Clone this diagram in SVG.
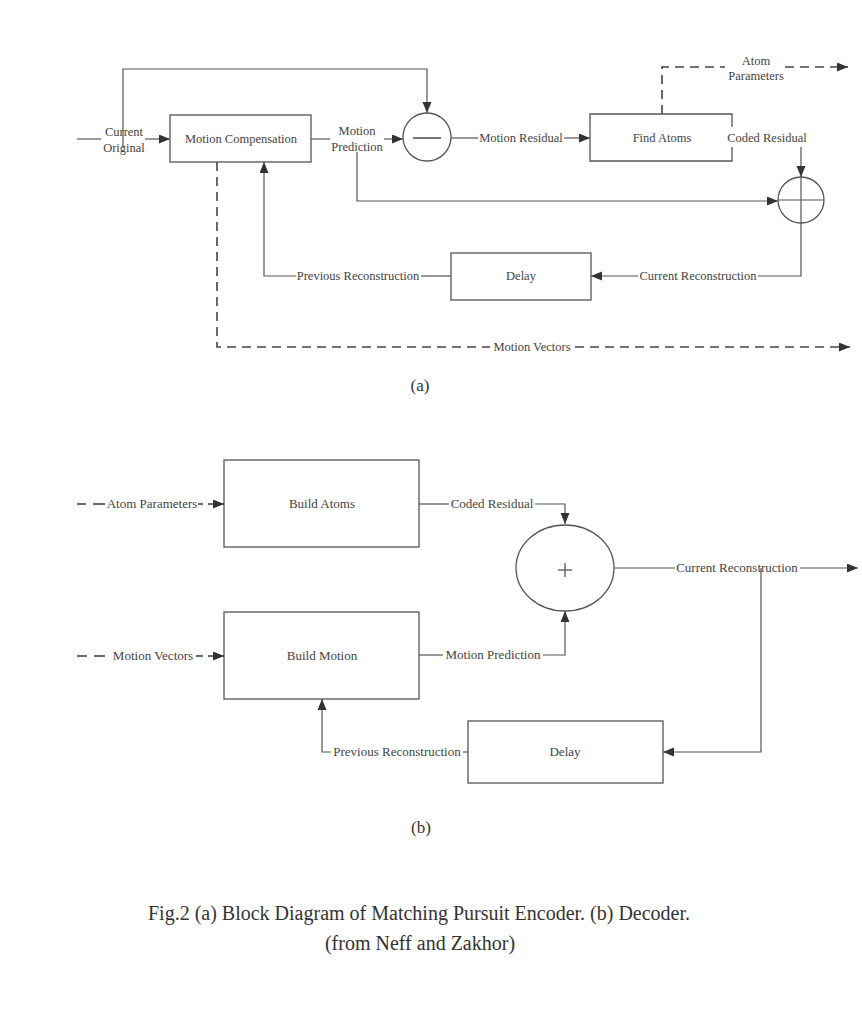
<svg xmlns="http://www.w3.org/2000/svg" width="862" height="1033" viewBox="0 0 862 1033">
<defs>
<marker id="ah" markerUnits="userSpaceOnUse" markerWidth="12" markerHeight="10" refX="11" refY="4.5" orient="auto">
<path d="M0,0 L11,4.5 L0,9 z" fill="#333"/>
</marker>
<style>
.box{fill:#fff;stroke:#555;stroke-width:1.3}
.ln{fill:none;stroke:#555;stroke-width:1.2}
.ds{fill:none;stroke:#444;stroke-width:1.6;stroke-dasharray:9,6}
.in{fill:none;stroke:#444;stroke-width:1.6}
.t{font-family:"Liberation Serif","Times New Roman",serif;font-size:12.5px;fill:#444;text-anchor:middle}
.tb{font-family:"Liberation Serif","Times New Roman",serif;font-size:13px;fill:#444;text-anchor:middle}
.cap{font-family:"Liberation Serif","Times New Roman",serif;font-size:20px;fill:#333;text-anchor:middle}
</style>
</defs>
<rect width="862" height="1033" fill="#fff"/>

<g id="connectors">
<!-- (a) encoder -->
<line class="ln" x1="77" y1="139" x2="101" y2="139"/>
<line class="ln" x1="145" y1="139" x2="170" y2="139" marker-end="url(#ah)"/>
<polyline class="ln" points="123,148 123,69 427,69 427,113" marker-end="url(#ah)"/>
<line class="ln" x1="311" y1="139" x2="330" y2="139"/>
<line class="ln" x1="384" y1="139" x2="403" y2="139" marker-end="url(#ah)"/>
<line class="ln" x1="451" y1="138" x2="478" y2="138"/>
<line class="ln" x1="564" y1="138" x2="590" y2="138" marker-end="url(#ah)"/>
<polyline class="ln" points="357,152 357,201 778,201" marker-end="url(#ah)"/>
<line class="ln" x1="801" y1="147" x2="801" y2="177" marker-end="url(#ah)"/>
<polyline class="ln" points="801,223 801,276 758,276"/>
<line class="ln" x1="638" y1="276" x2="591" y2="276" marker-end="url(#ah)"/>
<line class="ln" x1="451" y1="276" x2="421" y2="276"/>
<polyline class="ln" points="296,276 264,276 264,162" marker-end="url(#ah)"/>
<polyline class="ds" points="217,162 217,347 490,347"/>
<line class="ds" x1="575" y1="347" x2="850" y2="347" marker-end="url(#ah)"/>
<polyline class="ds" points="662,114 662,67 725,67"/>
<line class="ds" x1="785" y1="67" x2="848" y2="67" marker-end="url(#ah)"/>
<!-- (b) decoder -->
<line class="in" x1="77" y1="504" x2="86" y2="504"/>
<line class="in" x1="93" y1="504" x2="105" y2="504"/>
<line class="in" x1="198" y1="504" x2="203" y2="504"/>
<line class="in" x1="208" y1="504" x2="224" y2="504" marker-end="url(#ah)"/>
<line class="in" x1="77" y1="656" x2="87" y2="656"/>
<line class="in" x1="94" y1="656" x2="105" y2="656"/>
<line class="in" x1="196" y1="656" x2="203" y2="656"/>
<line class="in" x1="208" y1="656" x2="224" y2="656" marker-end="url(#ah)"/>
<line class="ln" x1="419" y1="504" x2="449" y2="504"/>
<polyline class="ln" points="535,504 565,504 565,524" marker-end="url(#ah)"/>
<line class="ln" x1="419" y1="655" x2="443" y2="655"/>
<polyline class="ln" points="543,655 565,655 565,611" marker-end="url(#ah)"/>
<line class="ln" x1="614" y1="568" x2="675" y2="568"/>
<line class="ln" x1="800" y1="568" x2="858" y2="568" marker-end="url(#ah)"/>
<polyline class="ln" points="761,568 761,752 663,752" marker-end="url(#ah)"/>
<line class="ln" x1="468" y1="752" x2="463" y2="752"/>
<polyline class="ln" points="331,752 322,752 322,699" marker-end="url(#ah)"/>
</g>

<g id="motion-compensation">
<rect class="box" x="170" y="115" width="141" height="47"/>
<text class="t" x="241" y="143">Motion Compensation</text>
</g>
<g id="subtractor">
<circle class="box" cx="427" cy="137" r="24"/>
<line class="ln" x1="413" y1="138" x2="441" y2="138" style="stroke-width:1.6"/>
</g>
<g id="find-atoms">
<path class="box" d="M732,127 L732,114 L590,114 L590,161 L732,161 L732,147"/>
<text class="t" x="662" y="142">Find Atoms</text>
</g>
<g id="adder-a">
<ellipse class="box" cx="801" cy="200" rx="23" ry="23"/>
<line class="ln" x1="801" y1="177" x2="801" y2="223"/>
<line class="ln" x1="778" y1="200" x2="824" y2="200"/>
</g>
<g id="delay-a">
<rect class="box" x="451" y="253" width="140" height="47"/>
<text class="t" x="521" y="280">Delay</text>
</g>

<g id="labels-a">
<text class="t" x="124" y="136">Current</text>
<text class="t" x="124" y="152">Original</text>
<text class="t" x="357" y="135">Motion</text>
<text class="t" x="357" y="151">Prediction</text>
<text class="t" x="521" y="142">Motion Residual</text>
<text class="t" x="767" y="142">Coded Residual</text>
<text class="t" x="756" y="65">Atom</text>
<text class="t" x="756" y="80">Parameters</text>
<text class="t" x="698" y="280">Current Reconstruction</text>
<text class="t" x="358" y="280">Previous Reconstruction</text>
<text class="t" x="532" y="351">Motion Vectors</text>
<text class="cap" x="420" y="391" style="font-size:17px">(a)</text>
</g>

<g id="build-atoms">
<rect class="box" x="224" y="460" width="195" height="87"/>
<text class="tb" x="322" y="508">Build Atoms</text>
</g>
<g id="build-motion">
<rect class="box" x="224" y="612" width="195" height="87"/>
<text class="tb" x="322" y="660">Build Motion</text>
</g>
<g id="adder-b">
<ellipse class="box" cx="565" cy="568" rx="49" ry="43"/>
<line class="ln" x1="558" y1="570" x2="572" y2="570" style="stroke-width:1.3"/>
<line class="ln" x1="565" y1="563" x2="565" y2="577" style="stroke-width:1.3"/>
</g>
<g id="delay-b">
<rect class="box" x="468" y="721" width="195" height="62"/>
<text class="tb" x="565" y="756">Delay</text>
</g>

<g id="labels-b">
<text class="tb" x="152" y="508">Atom Parameters</text>
<text class="tb" x="153" y="660">Motion Vectors</text>
<text class="tb" x="492" y="508">Coded Residual</text>
<text class="tb" x="493" y="659">Motion Prediction</text>
<text class="tb" x="737" y="572">Current Reconstruction</text>
<text class="tb" x="397" y="756">Previous Reconstruction</text>
<text class="cap" x="421" y="833" style="font-size:17px">(b)</text>
</g>

<g id="caption">
<text class="cap" x="419" y="920">Fig.2 (a) Block Diagram of Matching Pursuit Encoder. (b) Decoder.</text>
<text class="cap" x="420" y="950">(from Neff and Zakhor)</text>
</g>
</svg>
